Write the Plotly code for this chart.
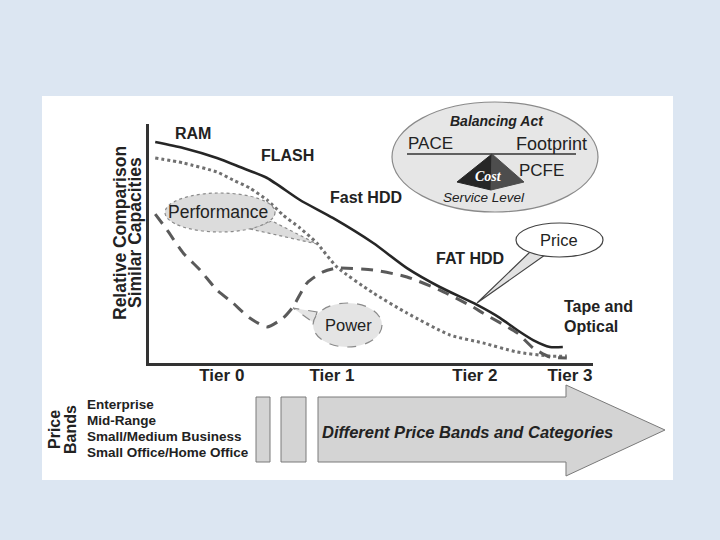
import plotly.graph_objects as go

# ---------------- data (relative units, 0-100) ----------------
tier_labels = ["Tier 0", "Tier 1", "Tier 2", "Tier 3"]
tier_pos = [16.4, 41.2, 73.4, 94.8]

price_x = [1.4, 7.7, 15.3, 20.5, 26.6, 34.0, 41.4, 50.5, 58.1, 65.5, 73.9, 79.1, 82.9, 86.5, 90.3, 93.2]
price_y = [92.5, 90.0, 85.8, 82.0, 77.4, 68.2, 60.7, 50.2, 39.7, 31.8, 24.3, 18.8, 13.8, 9.6, 6.7, 6.7]

perf_x = [1.4, 7.7, 15.3, 18.9, 22.7, 26.6, 30.2, 34.0, 37.8, 42.3, 50.5, 58.1, 67.8, 75.2, 82.9, 90.3, 94.1]
perf_y = [85.8, 83.7, 79.9, 76.6, 73.2, 68.2, 61.9, 56.5, 50.2, 40.2, 29.3, 20.9, 11.7, 8.4, 4.6, 2.9, 2.9]

power_x = [1.4, 4.1, 7.7, 11.5, 15.3, 18.9, 22.7, 26.6, 30.2, 32.4, 35.6, 39.2, 42.3, 50.5, 58.1, 65.5, 73.0, 75.2, 82.9, 86.5, 90.3, 94.1]
power_y = [62.3, 55.6, 46.0, 38.9, 30.5, 25.1, 18.8, 15.1, 18.8, 23.4, 33.5, 38.1, 39.7, 38.9, 36.0, 30.5, 23.4, 20.9, 12.6, 6.3, 2.5, 2.1]

curve_labels = ["RAM", "FLASH", "Fast HDD", "FAT HDD"]
price_bands = ["Enterprise", "Mid-Range", "Small/Medium Business", "Small Office/Home Office"]

W, H = 720, 540
FONT = "Liberation Sans, Arial, sans-serif"


def px(x):
    return x / W


def py(y):
    return 1 - y / H


def path(points):
    s = "M " + " L ".join(f"{px(x):.5f},{py(y):.5f}" for x, y in points) + " Z"
    return s


fig = go.Figure()
fig.add_trace(go.Scatter(x=price_x, y=price_y, mode="lines",
                         line=dict(color="#262626", width=2.6, shape="spline", smoothing=0.6),
                         name="Price", hoverinfo="skip"))
fig.add_trace(go.Scatter(x=perf_x, y=perf_y, mode="lines",
                         line=dict(color="#707070", width=3, dash="dot", shape="spline", smoothing=0.6),
                         name="Performance", hoverinfo="skip"))
fig.add_trace(go.Scatter(x=power_x, y=power_y, mode="lines",
                         line=dict(color="#5a5a5a", width=3, dash="12px,8px", shape="spline", smoothing=0.6),
                         name="Power", hoverinfo="skip"))

shapes = []
# white panel
shapes.append(dict(type="rect", xref="paper", yref="paper", x0=px(42), x1=px(673), y0=py(480), y1=py(96),
                   fillcolor="white", line=dict(width=0), layer="below"))

# Balancing act ellipse
shapes.append(dict(type="circle", xref="paper", yref="paper", x0=px(392), x1=px(598), y0=py(212), y1=py(102),
                   fillcolor="#e6e6e6", line=dict(color="#8a8a8a", width=1.2)))
shapes.append(dict(type="line", xref="paper", yref="paper", x0=px(407), x1=px(576), y0=py(154), y1=py(154),
                   line=dict(color="#333333", width=1.5)))
# pyramid
shapes.append(dict(type="path", xref="paper", yref="paper",
                   path=path([(492, 154), (457, 182), (491, 190)]),
                   fillcolor="#262626", line=dict(color="#262626", width=1)))
shapes.append(dict(type="path", xref="paper", yref="paper",
                   path=path([(492, 154), (491, 190), (524, 182)]),
                   fillcolor="#4d4d4d", line=dict(color="#4d4d4d", width=1)))

# Performance bubble
shapes.append(dict(type="path", xref="paper", yref="paper",
                   path=path([(250, 229), (317, 244), (272, 221)]),
                   fillcolor="#dcdcdc", line=dict(color="#8a8a8a", width=1.2, dash="dot")))
shapes.append(dict(type="circle", xref="paper", yref="paper", x0=px(165), x1=px(275), y0=py(232), y1=py(193),
                   fillcolor="#dcdcdc", line=dict(color="#8a8a8a", width=1.2, dash="dot")))

# Power bubble
shapes.append(dict(type="path", xref="paper", yref="paper",
                   path=path([(317, 312), (293, 308), (314, 323)]),
                   fillcolor="#e4e4e4", line=dict(color="#8a8a8a", width=1.2, dash="dash")))
shapes.append(dict(type="circle", xref="paper", yref="paper", x0=px(313), x1=px(382), y0=py(347), y1=py(303),
                   fillcolor="#e4e4e4", line=dict(color="#8a8a8a", width=1.2, dash="dash")))

# Price bubble
shapes.append(dict(type="path", xref="paper", yref="paper",
                   path=path([(531, 251), (477, 303), (545, 255)]),
                   fillcolor="#e2e2e2", line=dict(color="#444444", width=1.2)))
shapes.append(dict(type="circle", xref="paper", yref="paper", x0=px(516), x1=px(603), y0=py(257), y1=py(223),
                   fillcolor="white", line=dict(color="#444444", width=1.2)))

# price band bars and arrow
for x0, x1 in [(256, 270), (281, 306)]:
    shapes.append(dict(type="rect", xref="paper", yref="paper", x0=px(x0), x1=px(x1), y0=py(462), y1=py(397),
                       fillcolor="#d4d4d4", line=dict(color="#7a7a7a", width=1)))
shapes.append(dict(type="path", xref="paper", yref="paper",
                   path=path([(318, 397), (566, 397), (566, 385), (665, 430), (566, 476), (566, 462), (318, 462)]),
                   fillcolor="#d4d4d4", line=dict(color="#7a7a7a", width=1)))

ann = []


def text(x, y, t, size=15, bold=False, italic=False, color="#222222", xanchor="center", angle=0, family=FONT):
    s = t
    if bold:
        s = f"<b>{s}</b>"
    if italic:
        s = f"<i>{s}</i>"
    ann.append(dict(x=px(x), y=py(y), xref="paper", yref="paper", text=s, showarrow=False,
                    xanchor=xanchor, yanchor="middle", textangle=angle,
                    font=dict(size=size, color=color, family=family)))


# curve labels
text(193, 134, curve_labels[0], 16, bold=True)
text(287, 156, curve_labels[1], 16, bold=True)
text(366, 197, curve_labels[2], 16, bold=True)
text(470, 258, curve_labels[3], 16, bold=True)
text(562, 306, "Tape and", 16, bold=True, xanchor="left")
text(562, 326, "Optical", 16, bold=True, xanchor="left")

# bubble texts
text(218, 212, "Performance", 17.5)
text(348, 325, "Power", 16.5)
text(559, 240, "Price", 16.5)

# balancing act
text(497, 121, "Balancing Act", 14, bold=True, italic=True)
text(430, 144, "PACE", 17)
text(589, 144, "Footprint", 18, xanchor="right")
text(541, 170, "PCFE", 17)
text(488, 177, "Cost", 14, bold=True, italic=True, color="white", family="Liberation Serif, serif")
text(484, 197, "Service Level", 13.5, italic=True)

# y axis title
text(120, 233, "Relative Comparison", 17.5, bold=True, angle=-90)
text(135, 233, "Similar Capacities", 17.5, bold=True, angle=-90)

# price bands
text(54, 430, "Price", 16, bold=True, angle=-90)
text(70, 430, "Bands", 16, bold=True, angle=-90)
for i, lab in enumerate(price_bands):
    text(85, 404 + 16 * i, lab, 13.5, bold=True, xanchor="left")
text(320, 432, "Different Price Bands and Categories", 16.5, bold=True, italic=True, xanchor="left")

fig.update_layout(
    width=W, height=H,
    margin=dict(l=0, r=0, t=0, b=0),
    paper_bgcolor="#dce6f2",
    plot_bgcolor="rgba(0,0,0,0)",
    showlegend=False,
    shapes=shapes,
    annotations=ann,
    xaxis=dict(domain=[px(149), px(593)], range=[0, 100], showgrid=False, zeroline=False,
               showline=True, linecolor="#333333", linewidth=3,
               tickmode="array", tickvals=tier_pos, ticktext=[f"<b>{t}</b>" for t in tier_labels],
               ticks="", ticklabelstandoff=-5,
               tickfont=dict(size=17, color="#222222", family=FONT), fixedrange=True),
    yaxis=dict(domain=[py(363), py(124)], range=[0, 100], showgrid=False, zeroline=False,
               showline=True, linecolor="#333333", linewidth=3, showticklabels=False, ticks="",
               fixedrange=True),
)

fig.write_html("out.html", config={"displayModeBar": False},
               post_script="document.body.style.margin='0';document.body.style.overflow='hidden';")
